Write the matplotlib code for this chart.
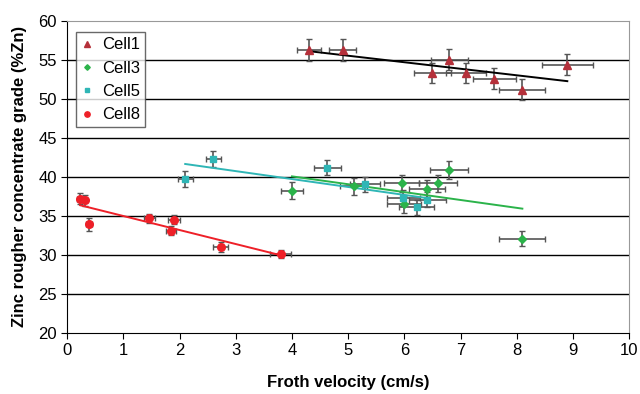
import matplotlib.pyplot as plt
import numpy as np

plt.rcParams['font.family'] = ['Liberation Sans', 'DejaVu Sans']

# froth velocity (cm/s) vs zinc grade (%Zn), with x/y error estimates
cell1_x = [4.3, 4.9, 6.8, 6.5, 7.1, 7.6, 8.1, 8.9]
cell1_y = [56.3, 56.3, 55.0, 53.3, 53.3, 52.6, 51.2, 54.4]
cell1_xerr = [0.21, 0.24, 0.33, 0.33, 0.35, 0.38, 0.41, 0.45]
cell1_yerr = [1.4, 1.4, 1.35, 1.3, 1.3, 1.3, 1.3, 1.3]

cell3_x = [4.0, 5.1, 5.95, 6.6, 6.4, 6.8, 6.0, 8.1]
cell3_y = [38.25, 38.8, 39.2, 39.2, 38.5, 40.9, 36.5, 32.1]
cell3_xerr = [0.2, 0.24, 0.31, 0.34, 0.32, 0.34, 0.3, 0.41]
cell3_yerr = [1.1, 1.1, 1.1, 1.1, 1.1, 1.15, 1.1, 1.0]

cell5_x = [2.6, 2.1, 4.63, 5.3, 5.98, 6.41, 6.22]
cell5_y = [42.3, 39.7, 41.2, 39.05, 37.3, 37.1, 36.1]
cell5_xerr = [0.13, 0.13, 0.24, 0.27, 0.29, 0.33, 0.31]
cell5_yerr = [1.05, 1.0, 1.0, 1.0, 1.0, 1.0, 1.0]

cell8_x = [0.23, 0.31, 0.39, 1.46, 1.9, 1.85, 2.73, 3.8]
cell8_y = [37.2, 37.0, 33.9, 34.7, 34.5, 33.1, 31.0, 30.1]
cell8_xerr = [0.05, 0.05, 0.05, 0.1, 0.1, 0.09, 0.13, 0.19]
cell8_yerr = [0.7, 0.7, 0.8, 0.6, 0.6, 0.6, 0.6, 0.5]

cells = [
    ('Cell1', cell1_x, cell1_y, cell1_xerr, cell1_yerr, '^', '#b5303a', 'black', 6),
    ('Cell3', cell3_x, cell3_y, cell3_xerr, cell3_yerr, 'D', '#2bb34a', '#2bb34a', 4),
    ('Cell5', cell5_x, cell5_y, cell5_xerr, cell5_yerr, 's', '#2fb6b6', '#2fb6b6', 5),
    ('Cell8', cell8_x, cell8_y, cell8_xerr, cell8_yerr, 'o', '#ee2028', '#ee2028', 5.5),
]

fig = plt.figure(figsize=(6.4, 3.94), dpi=100)
ax = fig.add_axes([0.105, 0.155, 0.878, 0.792])

for y in range(25, 60, 5):
    ax.axhline(y, color='black', lw=1, zorder=0)

for name, xs, ys, xe, ye, mk, col, lcol, ms in cells:
    ax.errorbar(xs, ys, xerr=xe, yerr=ye, fmt='none', ecolor='#555555',
                elinewidth=1.2, capsize=2, capthick=1, zorder=2)
    ax.plot(xs, ys, linestyle='none', marker=mk, color=col, markersize=ms,
            label=name, zorder=3)
    # linear trend over the measured range
    k, b = np.polyfit(xs, ys, 1)
    xx = np.array([min(xs), max(xs)])
    ax.plot(xx, k * xx + b, color=lcol, lw=1.4, zorder=2.5)

ax.set_xlim(0, 10)
ax.set_ylim(20, 60)
ax.set_xticks(range(0, 11))
ax.set_yticks(range(20, 61, 5))
ax.tick_params(labelsize=12, length=4, direction='out')

for s in ['top', 'right']:
    ax.spines[s].set_color('#999999')
ax.spines['left'].set_color('black')
ax.spines['bottom'].set_color('black')

ax.set_xlabel('Froth velocity (cm/s)', fontsize=12, fontweight='bold', labelpad=12)
ax.set_ylabel('Zinc rougher concentrate grade (%Zn)', fontsize=12, fontweight='bold',
              labelpad=8)

leg = ax.legend(loc='upper left', fontsize=12, frameon=True, fancybox=False,
                handlelength=0.8, handletextpad=0.5, borderpad=0.3,
                labelspacing=0.5, markerscale=0.7, bbox_to_anchor=(0.0, 0.99))
leg.get_frame().set_edgecolor('#444444')
leg.get_frame().set_linewidth(1)

fig.savefig('out.png', dpi=100)
